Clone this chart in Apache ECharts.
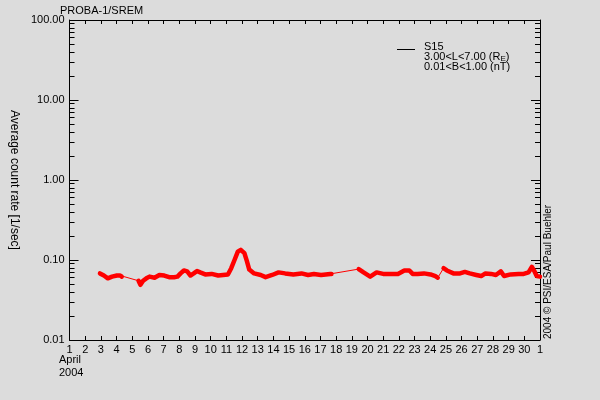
<!DOCTYPE html>
<html>
<head>
<meta charset="utf-8">
<script src="https://cdn.jsdelivr.net/npm/echarts@6/dist/echarts.min.js"></script>
<style>
  html, body { margin: 0; padding: 0; background: #dcdcdc; }
  #chart { width: 600px; height: 400px; }
</style>
</head>
<body>
<div id="chart"></div>
<script>
// day of April 2004 (May 1 = 31)
const days = [
  2.94, 3.19, 3.44, 3.71, 4.02, 4.23, 4.33,
  5.4, 5.52, 5.69, 5.9, 6.1, 6.42, 6.73, 6.83, 7.04, 7.35, 7.67, 7.88,
  8.08, 8.29, 8.5, 8.71, 8.92, 9.13, 9.33, 9.65, 10.06, 10.48, 10.79, 11.1,
  11.31, 11.52, 11.73, 11.92, 12.15, 12.3, 12.46, 12.77, 13.19, 13.5, 13.92,
  14.33, 14.75, 15.27, 15.79, 16.21, 16.58, 17.04, 17.63, 17.7,
  19.44, 19.75, 20.17, 20.58, 21.0, 21.42, 21.94, 22.35, 22.67, 22.88, 23.19,
  23.6, 24.02, 24.33, 24.48,
  24.85, 25.06, 25.48, 25.9, 26.21, 26.52, 26.94, 27.25, 27.52, 27.88, 28.19,
  28.5, 28.71, 29.13, 29.64, 29.96, 30.27, 30.48, 30.65, 30.79, 31.0
];
// average count rate [1/sec]
const rates = [
  0.068, 0.064, 0.059, 0.062, 0.064, 0.064, 0.062,
  0.055, 0.049, 0.055, 0.059, 0.062, 0.060, 0.065, 0.067, 0.064, 0.061, 0.061, 0.062,
  0.068, 0.074, 0.072, 0.064, 0.068, 0.073, 0.070, 0.066, 0.067, 0.064, 0.065, 0.066,
  0.079, 0.100, 0.127, 0.134, 0.122, 0.098, 0.076, 0.068, 0.065, 0.061, 0.065,
  0.070, 0.068, 0.066, 0.068, 0.065, 0.067, 0.065, 0.067, 0.067,
  0.077, 0.070, 0.062, 0.070, 0.067, 0.067, 0.067, 0.074, 0.074, 0.067, 0.067,
  0.068, 0.066, 0.063, 0.060,
  0.079, 0.074, 0.068, 0.068, 0.071, 0.068, 0.065, 0.063, 0.068, 0.067, 0.065,
  0.072, 0.063, 0.066, 0.067, 0.067, 0.070, 0.082, 0.072, 0.063, 0.062
];
// no-data stretches (start day, end day), drawn as a thin connecting line
const gaps = [[4.33, 5.4], [17.7, 19.44], [24.48, 24.85]];

const yMajor = [0.01, 0.1, 1, 10, 100];

const font = 'Liberation Sans, Arial, sans-serif';

const allPoints = days.map((d, i) => [d, rates[i]]);
const densePoints = [];
days.forEach((d, i) => {
  densePoints.push([d, rates[i]]);
  const g = gaps.find((gp) => gp[0] === d);
  if (g) densePoints.push([(g[0] + g[1]) / 2, '-']);
});

const chart = echarts.init(document.getElementById('chart'));

const black = { color: '#000', width: 1 };

function logAxis(pos, withLabels) {
  return {
    type: 'log',
    logBase: 10,
    min: 0.01,
    max: 100,
    position: pos,
    axisLine: { show: true, onZero: false, lineStyle: black },
    axisTick: { show: true, inside: true, length: 9, customValues: yMajor, lineStyle: black },
    minorTick: { show: true, splitNumber: 9, length: 5, lineStyle: black },
    axisLabel: withLabels
      ? {
          margin: 5,
          color: '#000',
          fontFamily: font,
          fontSize: 11,
          customValues: yMajor,
          formatter: (v) => v.toFixed(2)
        }
      : { show: false },
    splitLine: { show: false },
    minorSplitLine: { show: false }
  };
}

function dayAxis(pos, withLabels) {
  return {
    type: 'value',
    position: pos,
    min: 1,
    max: 31,
    interval: 1,
    axisLine: { onZero: false, lineStyle: black },
    axisTick: { inside: true, length: 4, lineStyle: black },
    axisLabel: withLabels
      ? {
          margin: 4,
          color: '#000',
          fontFamily: font,
          fontSize: 11,
          formatter: (v) => (v > 30 ? '1' : String(v))
        }
      : { show: false },
    splitLine: { show: false }
  };
}

const leftAxis = Object.assign(logAxis('left', true), {
  name: 'Average count rate [1/sec]',
  nameLocation: 'middle',
  nameRotate: -90,
  nameGap: 41,
  nameTextStyle: { fontFamily: font, fontSize: 12, color: '#000' }
});

chart.setOption({
  backgroundColor: '#dcdcdc',
  animation: false,
  textStyle: { fontFamily: font, color: '#000' },
  title: {
    text: 'PROBA-1/SREM',
    left: 55,
    top: 0,
    textStyle: { fontFamily: font, fontSize: 11, fontWeight: 'normal', color: '#000' }
  },
  grid: { left: 60, right: 60, top: 20, bottom: 60 },
  xAxis: [dayAxis('bottom', true), dayAxis('top', false)],
  yAxis: [leftAxis, logAxis('right', false)],
  series: [
    {
      name: 'S15 gaps',
      type: 'line',
      data: allPoints,
      symbol: 'none',
      lineStyle: { color: '#ff0000', width: 1 },
      z: 2
    },
    {
      name: 'S15',
      type: 'line',
      data: densePoints,
      symbol: 'none',
      connectNulls: false,
      lineStyle: { color: '#ff0000', width: 4.5, join: 'round', cap: 'round' },
      z: 3
    }
  ],
  graphic: [
    {
      type: 'line',
      shape: { x1: 397, y1: 49.5, x2: 415, y2: 49.5 },
      style: { stroke: '#000', lineWidth: 1 }
    },
    {
      type: 'text',
      x: 424,
      y: 42,
      style: {
        text: 'S15\n3.00<L<7.00 (R{s|E})\n0.01<B<1.00 (nT)',
        font: '11px ' + font,
        fill: '#000',
        lineHeight: 10,
        rich: { s: { fontSize: 8, fontFamily: font, lineHeight: 10, padding: [4, 0, 0, 0] } }
      }
    },
    {
      type: 'text',
      x: 59,
      y: 353,
      style: { text: 'April\n2004', font: '11px ' + font, fill: '#000', lineHeight: 13 }
    },
    {
      type: 'text',
      x: 548,
      y: 339,
      rotation: Math.PI / 2,
      style: {
        text: '2004 \u00a9 PSI/ESA/Paul Buehler',
        font: '10px ' + font,
        fill: '#000',
        align: 'left',
        verticalAlign: 'middle'
      }
    }
  ]
});
</script>
</body>
</html>
